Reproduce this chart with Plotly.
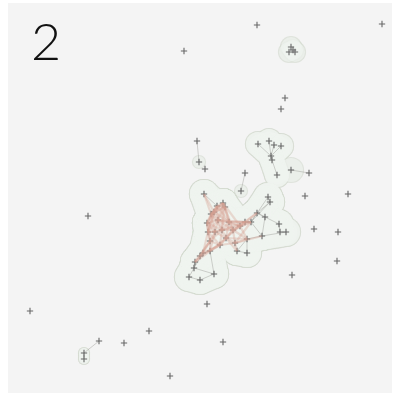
import numpy as np
import plotly.graph_objects as go

# Node positions (canvas pixel units, y grows downward)
node_x = [257, 382, 184, 285, 281, 88, 30, 99, 124, 149, 170, 207, 223, 309, 305, 348, 314, 338, 337, 292, 245, 197, 205,
          291, 289, 295, 293,
          199,
          241,
          258, 269, 274, 281, 271, 272, 277, 291,
          84, 84,
          204, 268, 270, 257, 251, 265, 279, 280, 286, 262, 247, 237, 247, 214, 194, 189, 200, 203, 210, 200,
          217, 223, 225, 211, 207, 208, 210, 233, 235, 195,
          218, 222, 226, 229, 240, 245, 215, 220, 214]
node_y = [25, 24, 51, 98, 109, 216, 311, 341, 343, 331, 376, 304, 342, 173, 196, 194, 229, 232, 261, 275, 173, 141, 169,
          47, 52, 52, 50,
          162,
          191,
          144, 141, 145, 146, 156, 160, 175, 170,
          353, 359,
          194, 197, 202, 213, 222, 217, 224, 232, 232, 236, 239, 251, 253, 274, 268, 277, 280, 253, 251, 256,
          206, 203, 207, 214, 223, 232, 241, 230, 243, 262,
          220, 230, 238, 222, 226, 222, 232, 245, 212]

# Community membership for the shaded outlines: (node indices, outline radius)
groups = [
    (list(range(23, 27)), 10),
    ([27], 6),
    ([28], 6),
    (list(range(29, 37)), 12),
    ([37, 38], 5),
    (list(range(39, 78)), 14),
]

edges_gray = [
    (21, 27), (20, 28), (7, 37), (37, 38), (36, 13),
    (29, 33), (30, 33), (31, 33), (32, 33), (33, 34), (34, 35),
    (40, 41), (41, 42), (41, 43), (42, 45), (43, 48), (48, 47), (45, 46), (44, 48), (42, 44),
    (49, 50), (50, 51), (49, 51), (48, 49),
    (57, 56), (56, 58), (58, 68), (68, 53), (53, 54), (52, 55), (53, 52), (54, 55), (56, 53), (57, 52),
    (39, 59), (40, 43), (42, 43),
]

edges_pink = [
    (59, 60), (59, 61), (60, 61), (59, 62), (60, 62), (61, 62), (59, 77), (60, 77), (61, 77), (62, 77),
    (62, 63), (63, 64), (64, 65), (63, 69), (64, 69), (69, 70), (70, 71), (69, 72), (72, 73), (73, 74),
    (70, 72), (71, 66), (66, 67), (70, 66), (75, 70), (75, 64), (75, 65), (76, 65), (76, 71), (76, 67),
    (59, 69), (60, 69), (61, 72), (77, 69), (77, 63), (62, 75), (63, 75), (69, 75), (70, 76), (72, 66),
    (66, 73), (73, 43), (74, 43), (74, 42), (72, 74), (66, 74), (67, 49), (71, 67), (65, 57), (65, 56),
    (76, 57), (75, 57), (64, 56), (71, 50), (67, 50), (70, 74), (69, 73), (62, 69), (61, 70), (60, 72),
    (59, 63), (77, 64), (61, 66), (62, 70), (63, 70), (64, 70), (65, 70), (75, 71), (76, 66), (73, 49),
    (65, 58), (76, 56), (71, 49), (72, 43), (69, 66), (59, 72), (60, 73), (62, 64), (63, 65), (64, 76),
    (57, 68), (56, 68), (65, 68), (76, 58), (71, 57), (39, 62), (39, 77), (59, 64), (60, 70), (61, 69),
    (66, 43), (67, 43), (73, 42), (71, 73), (70, 73), (69, 74), (67, 48), (66, 49), (72, 71), (77, 72),
]

PANEL = "#f4f4f4"
HULL_LINE = "rgb(214,219,209)"
HULL_FILL = "rgb(240,243,239)"

fig = go.Figure()

# Outline blobs: union of discs around members and along their internal links
hx, hy, hs = [], [], []
for members, r in groups:
    mset = set(members)
    pts = [(node_x[i], node_y[i]) for i in members]
    for a, b in edges_gray + edges_pink:
        if a in mset and b in mset:
            x0, y0, x1, y1 = node_x[a], node_y[a], node_x[b], node_y[b]
            n = int(np.hypot(x1 - x0, y1 - y0) / 3) + 2
            for t in np.linspace(0, 1, n):
                pts.append((x0 + t * (x1 - x0), y0 + t * (y1 - y0)))
    for p in pts:
        hx.append(p[0]); hy.append(p[1]); hs.append(r)
hs = np.array(hs)
fig.add_trace(go.Scatter(x=hx, y=hy, mode="markers", hoverinfo="skip",
                         marker=dict(size=2 * hs + 2.2, color=HULL_LINE, line=dict(width=0))))
fig.add_trace(go.Scatter(x=hx, y=hy, mode="markers", hoverinfo="skip",
                         marker=dict(size=2 * hs, color=HULL_FILL, line=dict(width=0))))


def edge_xy(edges):
    xs, ys = [], []
    for a, b in edges:
        xs += [node_x[a], node_x[b], None]
        ys += [node_y[a], node_y[b], None]
    return xs, ys


ex, ey = edge_xy(edges_gray)
fig.add_trace(go.Scatter(x=ex, y=ey, mode="lines", hoverinfo="skip",
                         line=dict(color="rgba(150,150,145,0.6)", width=0.7)))

fig.add_trace(go.Scatter(x=node_x, y=node_y, mode="markers",
                         marker=dict(symbol="cross-thin", size=4.5, color="#666",
                                     line=dict(width=1.1, color="#666"))))

ex, ey = edge_xy(edges_pink)
fig.add_trace(go.Scatter(x=ex, y=ey, mode="lines", hoverinfo="skip",
                         line=dict(color="rgba(215,160,145,0.35)", width=2.2)))

fig.add_shape(type="rect", x0=8, x1=392, y0=3, y1=393, xref="x", yref="y",
              fillcolor=PANEL, line=dict(width=0), layer="below")

fig.add_annotation(x=46, y=40, text="2", showarrow=False, xref="x", yref="y",
                   font=dict(family="Lato", size=52, color="#111", weight=300))

fig.update_layout(
    width=395, height=398, margin=dict(l=0, r=0, t=0, b=0),
    paper_bgcolor="white", plot_bgcolor="white", showlegend=False,
    xaxis=dict(range=[0, 395], visible=False, fixedrange=True),
    yaxis=dict(range=[398, 0], visible=False, fixedrange=True),
)

fig.write_html("out.html")
